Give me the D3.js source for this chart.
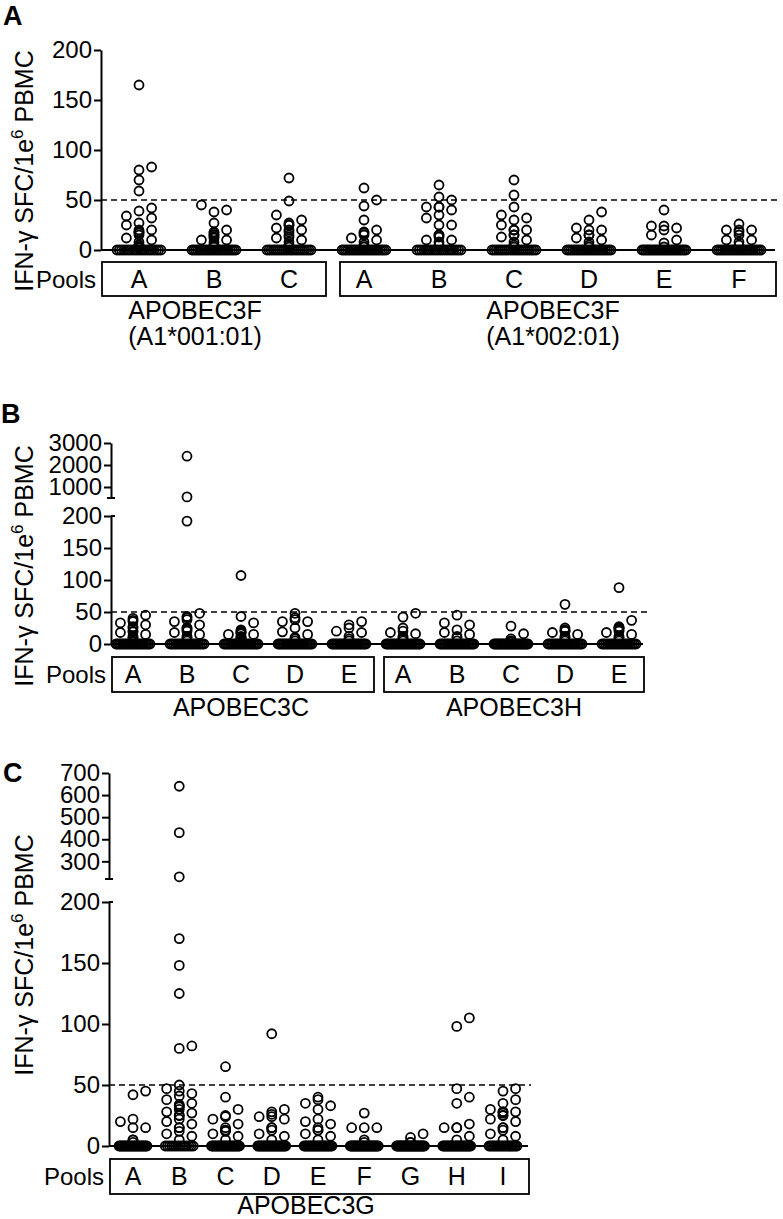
<!DOCTYPE html>
<html>
<head>
<meta charset="utf-8">
<style>
body { margin: 0; background: #fff; }
svg text { font-family: "Liberation Sans", Arial, Helvetica, sans-serif; fill: #000; }
</style>
</head>
<body>
<svg id="fig" width="783" height="1219"></svg>
<script src="https://d3js.org/d3.v7.min.js"></script>
<script>
// cutoff for a positive response
var cutoff = 50;

// panel A: APOBEC3F, two alleles
var poolsA = ["A","B","C","A","B","C","D","E","F"];
var groupSizeA = [3, 6];
var genesA = ["APOBEC3F", "APOBEC3F"];
var allelesA = ["(A1*001:01)", "(A1*002:01)"];
var ticksA = [0, 50, 100, 150, 200];
var valsA = [
  [165,83,80,70,59,42,39,34,32,27,25,20,20,18,18,17,15,12,10,8,5,5,3,3,2],
  [45,40,38,27,20,18,17,15,15,13,12,10,10,8,5,5,3],
  [72,49,35,30,27,25,25,22,20,20,18,15,13,12,10,8,5,3],
  [62,50,44,30,20,18,17,15,12,10,8,5,3],
  [65,53,50,43,43,43,40,35,32,25,25,15,15,13,10,10,8,5],
  [70,55,43,35,32,30,25,20,20,20,15,15,13,10,8,5,3],
  [38,30,22,20,20,15,15,12,10,8,5,3],
  [40,24,24,22,20,15,10,7,3],
  [26,20,20,20,18,15,10,10,8,5]
];
var zerosA = [20, 24, 22, 24, 20, 22, 24, 26, 24];

// panel B: APOBEC3C and APOBEC3H
var poolsB = ["A","B","C","D","E","A","B","C","D","E"];
var groupSizeB = [5, 5];
var genesB = ["APOBEC3C", "APOBEC3H"];
var ticksB = [0, 50, 100, 150, 200];
var ticksBHigh = [1000, 2000, 3000];
var valsB = [
  [45,40,37,35,33,30,27,25,20,19,18,15,12,10,8,5,3],
  [2400,550,192,48,43,41,38,35,30,25,25,22,20,18,15,12,10,8,5],
  [107,43,33,22,20,18,18,16,15,15,12,10,10,8,8,5,5,3],
  [48,41,38,35,35,25,19,15,10,8,5],
  [35,30,25,20,18,12,8,5],
  [48,42,25,20,18,16,12,10,8,5],
  [45,33,30,22,18,15,12,10,5],
  [28,16,8,5,3],
  [62,25,22,20,20,18,15,12,10,8,5],
  [88,37,27,25,25,25,22,20,18,15,12,10,8,5]
];
var zerosB = [22, 20, 22, 24, 24, 24, 24, 28, 22, 20];

// panel C: APOBEC3G
var poolsC = ["A","B","C","D","E","F","G","H","I"];
var groupSizeC = [9];
var genesC = ["APOBEC3G"];
var ticksC = [0, 50, 100, 150, 200];
var ticksCHigh = [300, 400, 500, 600, 700];
var valsC = [
  [45,42,22,20,15,15,5,5,3],
  [640,430,230,170,148,125,82,80,50,47,45,43,41,38,35,34,33,32,30,28,27,25,25,22,20,18,15,15,12,10,8,5],
  [65,40,30,25,24,22,18,15,13,13,12,10,8,5],
  [92,30,28,26,24,24,22,15,15,13,10,8,5],
  [40,38,35,33,30,22,20,18,15,13,13,10,8,5],
  [27,15,15,15,5,3],
  [10,7,3,3],
  [105,98,47,40,35,18,15,15,15,8,5],
  [47,45,38,35,30,28,28,28,27,25,25,22,20,15,15,13,10,8,5]
];
var zerosC = [26, 14, 24, 26, 24, 30, 32, 26, 20];

var svg = d3.select("#fig");
var R = 4.5;

// column scatter: free slot nearest the centre, else pile up in the middle
function swarm(vals, y, half, d) {
  var sp = d * 1.4, placed = [];
  var counts = d3.rollup(vals, function(v) { return v.length; }, function(v) { return v; });
  var cap = Math.floor(2 * half / sp) + 1;
  counts.forEach(function(n, v) {
    if (n > cap) {
      for (var i = 0; i < n; i++) placed.push({v: v, y: y(v), dx: -half + 2 * half * i / (n - 1)});
    }
  });
  vals.slice().sort(d3.ascending).forEach(function(v) {
    if (counts.get(v) > cap) return;
    var py = y(v), best = 0;
    search:
    for (var k = 0; k * sp / 2 <= half; k++) {
      var cands = k == 0 ? [0] : [k * sp / 2, -k * sp / 2];
      for (var j = 0; j < cands.length; j++) {
        var dx = cands[j];
        var free = placed.every(function(p) {
          return Math.abs(p.dx - dx) >= sp || Math.abs(p.y - py) >= d;
        });
        if (free) { best = dx; break search; }
      }
    }
    placed.push({v: v, y: py, dx: best});
  });
  return placed;
}

function panel(cfg) {
  var g = svg.append("g");
  var yLo = d3.scaleLinear().domain(cfg.lo).range(cfg.loRange);
  var yHi = cfg.hi ? d3.scaleLinear().domain(cfg.hi).range(cfg.hiRange) : null;
  var yOf = function(v) { return (yHi && v > cfg.lo[1]) ? yHi(v) : yLo(v); };
  var x = d3.scaleLinear().domain([0, cfg.pools.length - 1])
    .range([cfg.x0, cfg.x0 + cfg.step * (cfg.pools.length - 1)]);
  var fmt = d3.format("d");

  // panel letter
  g.append("text").attr("x", cfg.tagX).attr("y", cfg.tagY)
    .style("font-size", "27px").style("font-weight", "bold").text(cfg.tag);

  // y title
  var t = g.append("text")
    .attr("transform", "translate(33," + cfg.titleY + ") rotate(-90)")
    .attr("text-anchor", "middle").style("font-size", "25px");
  t.append("tspan").text("IFN-γ SFC/1e");
  t.append("tspan").attr("dy", -10).style("font-size", "17px").text("6");
  t.append("tspan").attr("dy", 10).text(" PBMC");

  // y axes (broken when there is a high segment)
  g.append("g").attr("transform", "translate(" + cfg.axisX + ",0)")
    .call(d3.axisLeft(yLo).tickValues(cfg.ticks).tickFormat(fmt).tickSize(7).tickSizeOuter(0).tickPadding(2));
  if (yHi) {
    g.append("g").attr("transform", "translate(" + cfg.axisX + ",0)")
      .call(d3.axisLeft(yHi).tickValues(cfg.ticksHigh).tickFormat(fmt).tickSize(7).tickSizeOuter(0).tickPadding(2));
    g.append("line").attr("x1", cfg.axisX - 4).attr("x2", cfg.axisX + 4)
      .attr("y1", cfg.hiRange[0]).attr("y2", cfg.hiRange[0]);
    g.append("line").attr("x1", cfg.axisX).attr("x2", cfg.axisX + 4)
      .attr("y1", cfg.loRange[1]).attr("y2", cfg.loRange[1]);
  }
  g.selectAll(".domain, .tick line, line").attr("stroke", "#000").attr("stroke-width", 2);
  g.selectAll(".tick text").style("font-size", "24px").attr("fill", "#000")
    .style("font-family", "'Liberation Sans', Arial, sans-serif");

  // x axis line with category ticks
  var y0 = yLo(0);
  g.append("line").attr("x1", cfg.axisX).attr("x2", cfg.xEnd)
    .attr("y1", y0).attr("y2", y0).attr("stroke", "#000").attr("stroke-width", 2);
  g.selectAll(".ctick").data(cfg.pools).enter().append("line")
    .attr("x1", function(d, i) { return x(i); }).attr("x2", function(d, i) { return x(i); })
    .attr("y1", y0).attr("y2", y0 + 4).attr("stroke", "#000").attr("stroke-width", 1.5);

  // cutoff
  g.append("line").attr("x1", cfg.axisX).attr("x2", cfg.dashEnd)
    .attr("y1", yLo(cutoff)).attr("y2", yLo(cutoff))
    .attr("stroke", "#000").attr("stroke-width", 1.6).attr("stroke-dasharray", "6,4");

  // points
  cfg.vals.forEach(function(vs, i) {
    var all = vs.slice();
    for (var k = 0; k < cfg.zeros[i]; k++) all.push(0);
    var pts = swarm(all, yOf, cfg.half, 2 * R);
    g.append("g").selectAll("circle").data(pts).enter().append("circle")
      .attr("cx", function(p) { return x(i) + p.dx; })
      .attr("cy", function(p) { return p.y; })
      .attr("r", R).attr("fill", "none").attr("stroke", "#000").attr("stroke-width", 1.8);
  });

  // boxes and labels
  var start = 0;
  var bTop = cfg.boxTop, bH = cfg.boxH;
  g.append("text").attr("x", cfg.axisX - 5).attr("y", bTop + 26)
    .attr("text-anchor", "end").style("font-size", "24px").text("Pools");
  cfg.groups.forEach(function(n, gi) {
    var end = start + n - 1;
    var left = start == 0 ? cfg.axisX + 1 : x(start) - cfg.padL;
    var right = x(end) + cfg.padR;
    g.append("rect").attr("x", left).attr("y", bTop).attr("width", right - left).attr("height", bH)
      .attr("fill", "none").attr("stroke", "#000").attr("stroke-width", 1.8);
    g.append("text").attr("x", cfg.labX[gi]).attr("y", cfg.labY[0])
      .attr("text-anchor", "middle").style("font-size", "25px").text(cfg.genes[gi]);
    if (cfg.alleles) {
      g.append("text").attr("x", cfg.labX[gi]).attr("y", cfg.labY[1])
        .attr("text-anchor", "middle").style("font-size", "25px").text(cfg.alleles[gi]);
    }
    start = end + 1;
  });
  g.selectAll(".plab").data(cfg.pools).enter().append("text")
    .attr("x", function(d, i) { return x(i); }).attr("y", bTop + 26)
    .attr("text-anchor", "middle").style("font-size", "25px").text(function(d) { return d; });
}

panel({tag: "A", tagX: 3, tagY: 25, axisX: 101, x0: 139, step: 75,
  lo: [0, 200], loRange: [250, 50], hi: null, ticks: ticksA,
  pools: poolsA, vals: valsA, zeros: zerosA, half: 22,
  xEnd: 775, dashEnd: 780, titleY: 171,
  boxTop: 262, boxH: 34, padL: 24, padR: 37,
  groups: groupSizeA, genes: genesA, alleles: allelesA, labX: [195, 553], labY: [319, 345]});

panel({tag: "B", tagX: 1, tagY: 423, axisX: 111, x0: 133, step: 54,
  lo: [0, 200], loRange: [644, 516], hi: [500, 3000], hiRange: [498, 443],
  ticks: ticksB, ticksHigh: ticksBHigh,
  pools: poolsB, vals: valsB, zeros: zerosB, half: 17,
  xEnd: 643, dashEnd: 647, titleY: 566,
  boxTop: 657, boxH: 35, padL: 19, padR: 25,
  groups: groupSizeB, genes: genesB, alleles: null, labX: [241, 514], labY: [716]});

panel({tag: "C", tagX: 3, tagY: 782, axisX: 109, x0: 133, step: 46.25,
  lo: [0, 200], loRange: [1146, 902], hi: [220, 700], hiRange: [879, 773],
  ticks: ticksC, ticksHigh: ticksCHigh,
  pools: poolsC, vals: valsC, zeros: zerosC, half: 14,
  xEnd: 528, dashEnd: 531, titleY: 955,
  boxTop: 1159, boxH: 35, padL: 20, padR: 26,
  groups: groupSizeC, genes: genesC, alleles: null, labX: [306], labY: [1214]});
</script>
</body>
</html>
